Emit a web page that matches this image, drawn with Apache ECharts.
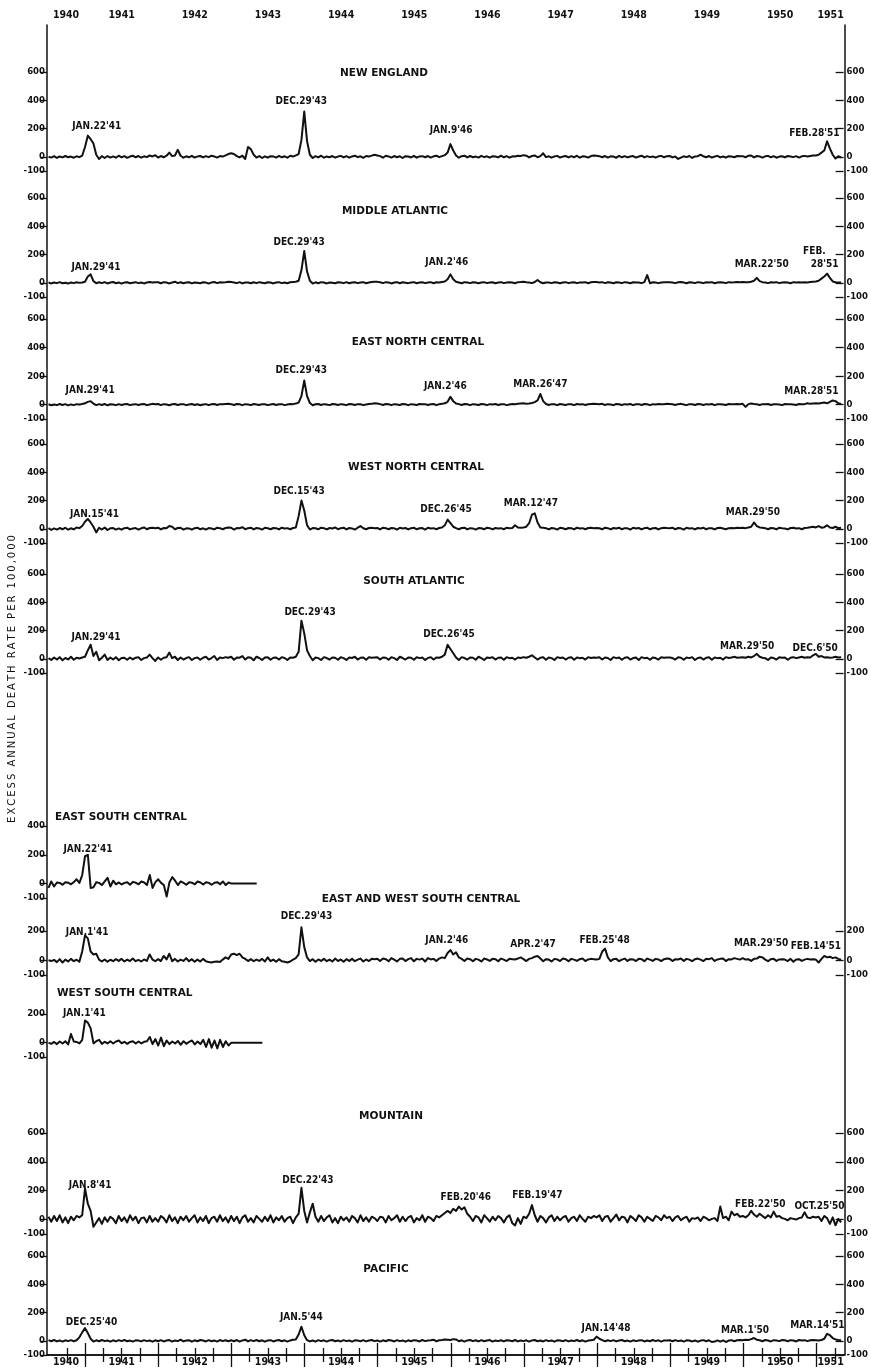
<!DOCTYPE html>
<html>
<head>
<meta charset="utf-8">
<script src="https://cdn.jsdelivr.net/npm/echarts@6/dist/echarts.min.js"></script>
<style>
  html, body { margin: 0; padding: 0; background: #fff; }
  #chart { width: 871px; height: 1368px; }
</style>
</head>
<body>
<div id="chart"></div>
<script>
// Excess annual death rate per 100,000, sampled every two weeks from July 1940.
const SERIES_START = 1940.5;
const SERIES_STEP = 1 / 26;
const X_MIN = 1940.48;
const X_MAX = 1951.38;

const yearTicks = [1941, 1942, 1943, 1944, 1945, 1946, 1947, 1948, 1949, 1950, 1951];
const yearLabels = ['1940', '1941', '1942', '1943', '1944', '1945', '1946', '1947', '1948', '1949', '1950', '1951'];
const fullTicks = [-100, 0, 200, 400, 600];
const escTicks = [-100, 0, 200, 400];
const smallTicks = [-100, 0, 200];

const newEngland = [
  0,-5,5,-8,3,-4,6,-3,2,-6,4,-2,8,
  70,150,125,95,15,-15,5,-8,6,-5,3,-6,8,-4,5,-7,2,8,-3,6,-5,4,-2,10,3,12,
  -5,6,-3,8,30,5,10,50,8,-6,4,-3,7,-5,3,6,-4,5,-2,8,3,-5,6,2,10,20,
  25,20,5,-4,8,-15,70,55,15,-5,6,-8,4,-6,5,3,-5,7,-3,4,-6,8,2,10,20,120,
  320,110,15,-8,5,-4,8,-6,3,-3,6,-5,2,7,-4,5,-6,3,8,-2,4,-7,6,2,9,15,
  10,5,-6,8,3,-5,6,-3,4,-8,5,2,-4,7,-6,3,5,-3,6,-5,4,8,-2,5,12,30,
  90,45,10,-6,5,8,-4,6,-3,2,-5,7,-2,4,-6,5,3,-4,8,-3,5,-6,4,2,8,6,
  12,8,-4,6,10,-3,5,25,-2,4,-6,3,7,-5,2,6,-4,5,-3,8,-6,4,2,-5,6,10,
  8,5,-3,6,-5,4,2,-6,7,-3,5,-4,3,6,-5,2,8,-4,5,-2,3,-6,4,7,-3,5,
  6,-4,3,-15,-5,4,-2,6,-8,3,5,15,4,-3,6,-5,2,7,-4,3,-6,5,2,-3,6,4,
  5,-3,8,10,-4,6,3,-5,4,7,-3,5,-6,2,4,-4,6,3,-2,5,-5,4,7,2,6,10,
  10,15,30,45,110,60,15,-12,5,-5
];

const middleAtlantic = [
  2,-4,3,-2,5,-3,1,-5,3,-2,4,0,3,
  8,45,60,12,-3,4,-2,5,-4,2,6,-3,3,-5,2,4,-3,1,5,-2,3,-4,2,6,3,5,
  4,-3,5,2,-4,3,8,-2,4,-3,2,5,-4,3,1,-3,4,2,-5,3,6,-2,4,3,5,8,
  6,3,-2,5,-4,3,2,-3,4,-2,5,1,-3,4,2,-4,3,5,-2,3,-3,4,6,8,15,90,
  225,80,15,-5,4,-3,5,2,-4,3,1,-3,4,2,-2,5,-3,3,4,-2,3,5,-3,2,6,8,
  7,4,-2,5,3,-4,2,5,-3,4,1,-2,3,5,-3,2,4,-2,3,5,-3,4,2,6,10,25,
  60,25,8,3,-3,5,2,-2,4,3,-3,2,5,-2,3,4,-3,2,5,-2,3,4,2,-3,5,6,
  8,5,3,-2,6,20,4,-3,3,2,-2,4,3,-3,2,5,-2,3,4,-2,3,2,5,-3,4,6,
  6,3,5,-2,4,2,-3,4,3,-2,5,2,-3,4,2,3,-2,5,55,-3,4,2,-2,3,5,4,
  5,3,-2,4,6,2,-3,4,3,-2,5,3,-2,4,2,5,-3,3,4,2,-2,5,3,4,6,5,
  6,4,5,8,15,35,12,5,3,-2,4,3,5,-2,3,4,2,-3,5,3,4,2,5,3,6,8,
  10,15,30,45,65,35,10,4,2,3
];

const eastNorthCentral = [
  3,-4,2,-3,5,-2,4,-5,2,-3,4,1,5,
  10,20,25,8,-3,4,-2,5,-4,3,2,-3,4,-2,3,5,-3,2,4,-2,3,5,-3,2,6,4,
  5,-3,4,2,-4,3,5,-2,3,4,-3,2,5,-2,3,-4,2,4,-3,3,5,-2,4,3,5,6,
  4,-2,5,3,-3,4,2,-3,5,2,-2,4,3,-3,2,5,-2,3,4,-3,2,5,4,8,15,60,
  170,60,12,-4,3,5,-2,4,2,-3,5,3,-2,4,2,-3,5,3,-2,4,3,-3,2,5,6,10,
  8,4,-2,5,3,-3,4,2,-2,5,3,-3,4,2,-2,5,3,4,-2,3,5,-3,4,6,10,20,
  55,25,8,4,-2,5,3,-3,4,2,-2,5,3,-3,4,2,5,-2,3,4,-3,2,5,3,6,8,
  10,6,8,12,18,30,75,25,5,-2,4,3,-3,5,2,-2,4,3,-3,5,2,4,-2,3,5,6,
  5,3,6,-2,4,2,-3,5,3,-2,4,2,5,-3,3,4,-2,5,3,-3,4,2,5,3,4,6,
  5,3,-2,4,6,2,-3,4,3,-2,5,3,-2,4,2,5,-3,3,4,2,-2,5,3,4,5,4,
  6,-15,4,8,5,3,-2,4,3,5,-2,3,4,2,-3,5,3,4,2,-2,5,3,4,10,6,8,
  10,8,12,15,10,20,30,25,10,5
];

const westNorthCentral = [
  5,-8,3,-5,6,-3,8,-6,4,-4,10,5,20,
  50,70,45,15,-25,8,-5,10,-8,4,6,-5,3,-6,5,8,-4,3,6,-5,4,10,-3,6,8,5,
  8,-4,6,5,20,15,-3,6,8,-5,4,3,-6,5,8,-3,4,-5,6,3,-4,8,5,-3,6,10,
  8,-5,6,4,12,-3,5,8,-4,6,3,-5,8,4,-3,6,5,-4,8,3,5,-3,6,10,90,200,
  130,25,-5,6,4,-3,8,5,-4,6,3,10,-3,5,8,-4,6,3,-5,8,20,4,-3,6,8,5,
  6,-4,8,5,-3,6,4,-5,8,3,6,-4,5,8,-3,4,6,-5,8,3,5,-3,6,10,25,65,
  40,15,5,-3,6,8,-4,5,3,-5,6,4,-3,8,5,-4,6,3,5,-3,8,4,6,25,10,8,
  10,15,40,100,110,45,10,8,5,-4,6,3,-5,8,4,-3,6,5,-4,8,3,5,-3,6,8,5,
  6,4,-3,8,5,-4,6,3,8,-3,5,4,-5,8,3,6,-4,5,8,-3,4,6,-4,5,8,6,
  5,8,-3,6,4,-5,8,3,5,-4,6,3,8,-3,5,4,-4,6,8,3,-3,5,6,4,8,6,
  8,5,10,15,45,20,10,8,5,-3,6,4,-4,8,5,3,-4,6,8,3,5,-3,6,8,12,15,
  10,20,8,12,25,10,6,15,5,8
];

const southAtlantic = [
  5,-8,10,-5,12,-10,6,-4,15,-6,8,3,10,
  15,60,100,20,50,-10,8,30,-8,10,-5,12,-10,6,8,-6,10,-4,8,12,-8,5,10,30,5,-15,
  10,-6,8,12,45,5,15,-8,10,-5,6,12,-8,5,10,-6,8,15,-5,6,20,-8,10,5,12,8,
  15,-6,10,8,20,-5,12,8,-10,15,6,-8,10,12,-6,8,10,-5,12,6,-8,10,8,15,50,270,
  180,60,20,-10,10,5,-8,12,6,-5,10,8,-6,12,5,-8,10,6,15,-5,8,10,-6,12,8,10,
  12,-5,10,8,-6,12,5,-8,15,6,-5,10,8,-6,12,5,10,-8,6,12,-5,10,8,15,30,100,
  70,40,10,-8,12,6,-5,10,8,-6,15,5,-8,10,6,12,-5,8,10,-6,12,5,8,-5,10,6,
  12,8,15,25,10,-5,8,12,-6,10,5,-8,12,6,10,-5,8,12,-6,10,5,8,-5,12,6,10,
  8,12,-5,10,6,-8,12,5,10,-6,8,12,-5,6,10,-8,12,5,8,-6,10,6,-5,12,8,10,
  10,6,-5,12,8,-6,10,5,12,-8,6,10,-5,8,12,-6,10,5,8,-5,12,6,10,15,8,10,
  12,8,15,10,20,35,15,8,5,-8,10,6,-5,12,8,10,-6,8,12,5,10,15,8,12,10,25,
  35,15,20,10,12,8,10,15,10,12
];

// reported only until early 1943
const eastSouthCentral = [
  -30,15,-20,8,5,-8,10,6,-5,10,30,5,60,
  190,200,-30,-25,10,5,-10,15,40,-20,20,-5,8,-6,5,10,-8,12,6,-5,15,8,-10,60,-30,10,
  30,5,-10,-90,10,45,20,-10,15,5,-8,10,6,-5,15,8,-6,10,5,-8,6,10,-5,15,-10,8,
  0,0,0,0,0,0,0,0,0,0
];

const eastWestSouthCentral = [
  0,-5,3,-12,8,-15,5,-8,10,-6,4,-10,60,
  170,150,60,40,45,5,-8,6,-10,4,-6,8,-4,10,-8,5,-5,12,-6,3,-8,6,-4,40,5,-6,
  8,-5,30,6,45,-6,10,-8,5,-4,15,-6,8,-10,5,-8,10,-6,-12,-15,-10,-8,-12,5,20,10,
  40,45,35,45,20,10,-5,8,-6,5,-4,10,-8,20,-6,5,-10,8,-6,-10,-15,-8,5,15,40,225,
  90,20,-5,8,-10,6,-4,10,-6,5,-8,12,-5,6,-10,8,-4,10,-6,5,12,-8,6,-5,10,8,
  10,-5,12,8,-6,15,5,-8,10,12,-5,8,15,-6,10,5,12,-8,15,6,10,-5,12,20,15,50,
  70,40,55,20,10,-5,12,8,-6,10,5,-8,12,6,-4,10,8,-6,12,5,-5,10,8,6,12,20,
  8,-5,10,15,25,30,12,-6,8,5,-8,10,6,-5,12,8,-6,10,5,-4,8,12,-5,6,10,8,
  6,10,60,80,20,-5,8,10,-6,5,12,-4,8,6,-5,10,8,-6,12,5,-4,10,6,-5,8,12,
  10,-5,8,6,12,-4,10,5,-6,8,12,5,-5,10,8,15,-4,6,10,12,-5,8,6,15,10,5,
  15,5,8,-4,10,12,25,20,5,-6,8,10,-4,6,8,5,-5,10,-10,6,8,-4,5,10,6,8,
  5,-15,10,30,20,25,15,20,10,5
];

// reported only until early 1943
const westSouthCentral = [
  0,-8,5,-10,8,-6,10,-12,60,8,5,-5,20,
  155,140,100,-5,10,20,-8,6,-5,10,-6,8,15,-4,6,-8,5,10,-6,8,-5,6,10,40,-10,25,
  -20,35,-25,15,-10,8,-6,12,-15,10,-8,6,15,-12,8,-10,20,-30,25,-35,15,-40,20,-30,10,-20,
  0,0,0,0,0,0,0,0,0,0,0,0
];

const mountain = [
  20,-15,25,-10,30,-20,15,-25,20,-5,25,15,30,
  215,110,60,-50,-20,10,-30,15,-15,20,5,-25,25,-10,15,-20,30,-5,20,-25,10,15,-20,25,-15,10,
  -15,25,10,-20,30,-10,15,-25,20,-5,25,-15,10,30,-20,15,-10,25,-25,10,20,-15,30,-10,15,-20,
  25,-10,20,-25,15,30,-15,10,-20,25,5,-15,20,-10,30,-20,15,-5,25,-15,10,20,-25,15,40,220,
  60,-20,50,110,20,-15,25,-10,15,30,-20,10,-25,20,-5,15,-15,25,10,-20,30,-10,15,-15,20,10,
  -10,20,15,-20,25,-5,10,30,-15,20,-10,15,25,-20,10,-5,30,-15,20,10,-10,25,15,30,45,60,
  45,75,60,90,70,85,40,20,-10,25,15,-20,30,10,-15,20,-5,25,10,-20,15,30,-25,-40,10,-30,
  20,10,40,100,30,-15,25,10,-20,15,30,-10,20,-5,15,25,-15,10,20,-10,30,5,-15,20,10,25,
  15,30,-10,20,25,-15,10,35,-5,20,15,-20,25,10,-10,30,15,-15,20,5,-10,25,15,-5,30,10,
  20,-10,15,25,-5,10,20,-15,10,5,15,-10,20,10,-5,5,10,-10,90,10,20,-5,55,30,40,20,
  25,15,30,60,35,20,40,25,10,30,15,55,20,25,10,5,-5,10,5,0,10,15,50,15,10,20,
  15,20,-10,25,10,-30,15,-40,5,-20
];

const pacific = [
  5,-3,6,-4,3,-5,4,-2,5,-3,4,25,60,
  90,55,15,-5,4,-3,6,-2,3,-6,4,-4,5,-2,6,-3,2,-5,4,3,-4,5,-2,3,-6,4,
  -3,5,-4,2,6,-5,3,-2,8,-4,3,5,-6,4,-3,6,2,-4,5,-3,3,-5,6,-2,4,-3,
  4,-3,6,-5,3,8,-4,5,-2,6,-3,4,-6,3,5,-4,2,6,-3,4,-5,3,8,10,45,100,
  40,5,-4,3,-6,5,-2,4,-5,3,6,-3,2,-4,5,-2,3,-6,4,2,-3,5,-4,3,6,-2,
  3,-5,4,-3,6,2,-4,5,-2,3,-6,4,-3,5,2,-4,6,-2,3,5,8,-3,4,6,10,8,
  6,12,10,-3,4,-5,3,6,-2,4,-4,5,-3,2,6,-5,3,-2,4,-4,5,2,-3,6,-4,3,
  -2,4,-5,3,6,-3,2,-4,5,-2,3,-6,4,2,-3,5,-4,3,-2,6,-3,4,-5,2,5,8,
  30,15,5,-3,4,-2,5,-4,3,6,-3,2,-5,4,-2,3,5,-4,2,-3,6,-2,4,-5,3,2,
  4,-3,5,-2,3,-5,4,2,-4,3,-6,2,5,-3,4,-8,-5,3,-6,4,-8,2,5,-3,4,6,
  5,8,6,12,20,8,4,-3,6,2,-4,5,3,-2,6,4,-3,5,2,-4,6,3,5,-2,4,6,
  5,3,6,15,50,40,20,10,6,4
];

// peak annotations: [text, year, height above zero in the panel's units]
const newEnglandNotes = [["JAN.22'41", 1941.16, 218], ["DEC.29'43", 1943.96, 395], ["JAN.9'46", 1946.01, 190], ["FEB.28'51", 1950.98, 169]];
const middleAtlanticNotes = [["JAN.29'41", 1941.15, 112], ["DEC.29'43", 1943.93, 289], ["JAN.2'46", 1945.95, 147], ["MAR.22'50", 1950.26, 133], ["FEB.", 1950.98, 225], ["28'51", 1951.12, 133]];
const eastNorthCentralNotes = [["JAN.29'41", 1941.07, 103], ["DEC.29'43", 1943.96, 243], ["JAN.2'46", 1945.93, 131], ["MAR.26'47", 1947.23, 145], ["MAR.28'51", 1950.94, 96]];
const westNorthCentralNotes = [["JAN.15'41", 1941.13, 105], ["DEC.15'43", 1943.93, 268], ["DEC.26'45", 1945.94, 140], ["MAR.12'47", 1947.10, 183], ["MAR.29'50", 1950.14, 119]];
const southAtlanticNotes = [["JAN.29'41", 1941.15, 155], ["DEC.29'43", 1944.08, 331], ["DEC.26'45", 1945.98, 176], ["MAR.29'50", 1950.06, 91], ["DEC.6'50", 1950.99, 77]];
const eastSouthCentralNotes = [["JAN.22'41", 1941.04, 240]];
const eastWestSouthCentralNotes = [["JAN.1'41", 1941.03, 193], ["DEC.29'43", 1944.03, 302], ["JAN.2'46", 1945.95, 139], ["APR.2'47", 1947.13, 111], ["FEB.25'48", 1948.11, 139], ["MAR.29'50", 1950.25, 118], ["FEB.14'51", 1951.0, 98]];
const westSouthCentralNotes = [["JAN.1'41", 1940.99, 207]];
const mountainNotes = [["JAN.8'41", 1941.07, 240], ["DEC.22'43", 1944.05, 274], ["FEB.20'46", 1946.21, 156], ["FEB.19'47", 1947.19, 170], ["FEB.22'50", 1950.24, 108], ["OCT.25'50", 1951.05, 94]];
const pacificNotes = [["DEC.25'40", 1941.09, 133], ["JAN.5'44", 1943.96, 169], ["JAN.14'48", 1948.13, 91], ["MAR.1'50", 1950.03, 77], ["MAR.14'51", 1951.02, 112]];

// panel layout (pixels) and axis setup
const panels = [
  { title: 'NEW ENGLAND', data: newEngland, notes: newEnglandNotes, top: 72, height: 99, max: 600, left: fullTicks, right: fullTicks, tx: 384, ty: 73, align: 'center' },
  { title: 'MIDDLE ATLANTIC', data: middleAtlantic, notes: middleAtlanticNotes, top: 198, height: 99, max: 600, left: fullTicks, right: fullTicks, tx: 395, ty: 211, align: 'center' },
  { title: 'EAST NORTH CENTRAL', data: eastNorthCentral, notes: eastNorthCentralNotes, top: 319, height: 100, max: 600, left: fullTicks, right: fullTicks, tx: 418, ty: 342, align: 'center' },
  { title: 'WEST NORTH CENTRAL', data: westNorthCentral, notes: westNorthCentralNotes, top: 444, height: 99, max: 600, left: fullTicks, right: fullTicks, tx: 416, ty: 467, align: 'center' },
  { title: 'SOUTH ATLANTIC', data: southAtlantic, notes: southAtlanticNotes, top: 574, height: 99, max: 600, left: fullTicks, right: fullTicks, tx: 414, ty: 581, align: 'center' },
  { title: 'EAST SOUTH CENTRAL', data: eastSouthCentral, notes: eastSouthCentralNotes, top: 826, height: 72, max: 400, left: escTicks, right: null, tx: 55, ty: 817, align: 'left' },
  { title: 'EAST AND WEST SOUTH CENTRAL', data: eastWestSouthCentral, notes: eastWestSouthCentralNotes, top: 901.67, height: 73.33, max: 400, left: smallTicks, right: smallTicks, tx: 421, ty: 899, align: 'center' },
  { title: 'WEST SOUTH CENTRAL', data: westSouthCentral, notes: westSouthCentralNotes, top: 985.33, height: 71.67, max: 400, left: smallTicks, right: null, tx: 57, ty: 993, align: 'left' },
  { title: 'MOUNTAIN', data: mountain, notes: mountainNotes, top: 1133, height: 101, max: 600, left: fullTicks, right: fullTicks, tx: 391, ty: 1116, align: 'center' },
  { title: 'PACIFIC', data: pacific, notes: pacificNotes, top: 1256, height: 99, max: 600, left: fullTicks, right: fullTicks, tx: 386, ty: 1269, align: 'center' }
];

const INK = '#111';
const FRAME_L = 47, FRAME_R = 26.5, FRAME_T = 25, FRAME_B = 13;
const CONDENSED = '"DejaVu Sans Condensed", "DejaVu Sans", sans-serif';
const tickFont = { fontFamily: CONDENSED, fontWeight: 'bold', fontSize: 9.5, color: INK };
const yearFont = { fontFamily: CONDENSED, fontWeight: 'bold', fontSize: 10.5, color: INK };
const noteFont = { fontFamily: CONDENSED, fontWeight: 'bold', fontSize: 10, color: INK };

const quarterTicks = [1940.75];
yearTicks.forEach(y => { if (y < 1951) quarterTicks.push(y + 0.25, y + 0.5, y + 0.75); else quarterTicks.push(y + 0.25); });
const bounds = [X_MIN].concat(yearTicks, [X_MAX]);
const yearLabelPos = [];
for (let k = 0; k < bounds.length - 1; k++) yearLabelPos.push((bounds[k] + bounds[k + 1]) / 2);

function toPoints(vals) {
  return vals.map((v, i) => [SERIES_START + i * SERIES_STEP, v]);
}

const grid = [{ left: FRAME_L, right: FRAME_R, top: FRAME_T, bottom: FRAME_B }];
const xAxis = [];
const yAxis = [];
const series = [];

function frameXAxis(position, ticks, len, withLine, withLabels) {
  return {
    type: 'value', gridIndex: 0, position: position, min: X_MIN, max: X_MAX,
    axisLine: { show: withLine, lineStyle: { color: INK, width: 1.5 } },
    axisTick: { show: true, inside: true, length: len, customValues: ticks, lineStyle: { color: INK, width: 1.3 } },
    axisLabel: withLabels ? Object.assign({ show: true, customValues: yearLabelPos, margin: position === 'top' ? 4 : 2,
      formatter: v => yearLabels[Math.min(yearLabels.length - 1, Math.floor(v) - 1940)] }, yearFont) : { show: false },
    splitLine: { show: false }
  };
}
xAxis.push(frameXAxis('top', yearTicks, 12, true, true));
xAxis.push(frameXAxis('top', quarterTicks, 7, false, false));
xAxis.push(frameXAxis('bottom', yearTicks, 12, true, true));
xAxis.push(frameXAxis('bottom', quarterTicks, 7, false, false));

['left', 'right'].forEach(pos => {
  yAxis.push({
    type: 'value', gridIndex: 0, position: pos, min: 0, max: 1,
    axisLine: { show: true, lineStyle: { color: INK, width: 1.5 } },
    axisTick: { show: false }, axisLabel: { show: false }, splitLine: { show: false }
  });
});

panels.forEach((p, k) => {
  const gi = k + 1;
  grid.push({ left: FRAME_L, right: FRAME_R, top: p.top, height: p.height });
  const xi = xAxis.length;
  xAxis.push({ type: 'value', gridIndex: gi, min: X_MIN, max: X_MAX, show: false });
  const yi = yAxis.length;
  yAxis.push({
    type: 'value', gridIndex: gi, position: 'left', min: -100, max: p.max,
    axisLine: { show: false },
    axisTick: { show: true, inside: false, length: 7, customValues: p.left, lineStyle: { color: INK, width: 1.3 } },
    axisLabel: Object.assign({ show: true, customValues: p.left, margin: 2 }, tickFont),
    splitLine: { show: false }
  });
  if (p.right) {
    yAxis.push({
      type: 'value', gridIndex: gi, position: 'right', min: -100, max: p.max,
      axisLine: { show: false },
      axisTick: { show: true, inside: true, length: 8, customValues: p.right, lineStyle: { color: INK, width: 1.3 } },
      axisLabel: Object.assign({ show: true, customValues: p.right, margin: 3 }, tickFont),
      splitLine: { show: false }
    });
  }
  series.push({
    type: 'line', name: p.title, xAxisIndex: xi, yAxisIndex: yi,
    data: toPoints(p.data),
    showSymbol: false, symbol: 'none', clip: false, silent: true,
    lineStyle: { color: INK, width: 2, join: 'round' },
    markPoint: {
      silent: true, symbol: 'circle', symbolSize: 1,
      itemStyle: { color: 'rgba(0,0,0,0)' },
      label: Object.assign({ show: true, position: 'inside', formatter: d => d.name }, noteFont),
      data: p.notes.map(n => ({ name: n[0], coord: [n[1], n[2]] }))
    }
  });
});

const graphic = panels.map(p => ({
  type: 'text', x: p.tx, y: p.ty, silent: true,
  style: {
    text: p.title, fill: INK, textAlign: p.align, textVerticalAlign: 'middle',
    font: 'bold 10.5px "DejaVu Sans", sans-serif'
  }
}));

// vertical axis title, letter-spaced
const axisTitle = ['EXCESS', 'ANNUAL', 'DEATH', 'RATE', 'PER', '100,000']
  .map(w => w.split('').join('\u2009')).join(' \u2009\u2009');
graphic.push({
  type: 'text', x: 12, y: 679, rotation: Math.PI / 2, silent: true,
  style: { text: axisTitle, fill: INK, textAlign: 'center', textVerticalAlign: 'middle', font: '10px "DejaVu Sans", sans-serif' }
});

const chart = echarts.init(document.getElementById('chart'), null, { renderer: 'canvas' });
chart.setOption({
  backgroundColor: '#fff',
  animation: false,
  grid: grid,
  xAxis: xAxis,
  yAxis: yAxis,
  series: series,
  graphic: graphic
});
</script>
</body>
</html>
